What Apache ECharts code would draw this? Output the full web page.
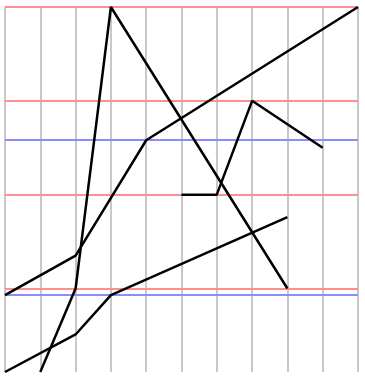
<!DOCTYPE html>
<html><head><meta charset="utf-8">
<script src="https://cdn.jsdelivr.net/npm/echarts@6/dist/echarts.min.js"></script>
<style>html,body{margin:0;padding:0;background:#fff}#c{width:365px;height:379px}</style>
</head><body><div id="c"></div>
<script>
// x positions (value axis 0..10) and y values per line
const line1X = [1, 2, 3, 8];
const line1Y = [-8.9, 0, 30, 0];
const line2X = [0, 2, 4, 10];
const line2Y = [-0.7, 3.5, 15.8, 30];
const line3X = [0, 2, 3, 8];
const line3Y = [-8.9, -4.9, -0.7, 7.6];
const line4X = [5, 6, 7, 9];
const line4Y = [10, 10, 20, 15];
const redLevels = [0, 10, 20, 30];
const blueLevels = [15.8, -0.7];
const xMin = 0, xMax = 10, xStep = 1;
const yMin = -8.9, yMax = 30;

const zip = (xs, ys) => xs.map((x, i) => [x, ys[i]]);
const lineStyle = { color: '#000', width: 2.5 };
function mk(xs, ys, extra) {
  return Object.assign({
    type: 'line', data: zip(xs, ys), symbol: 'none', silent: true,
    lineStyle: lineStyle, z: 5, animation: false
  }, extra || {});
}
const chart = echarts.init(document.getElementById('c'), null, { renderer: 'canvas' });
chart.setOption({
  animation: false,
  grid: { left: 5, right: 7, top: 7, bottom: 7, containLabel: false },
  xAxis: {
    type: 'value', min: xMin, max: xMax, interval: xStep,
    axisLine: { show: false }, axisTick: { show: false }, axisLabel: { show: false },
    splitLine: { show: true, lineStyle: { color: '#c8c8c8', width: 2 } }
  },
  yAxis: {
    type: 'value', min: yMin, max: yMax,
    axisLine: { show: false }, axisTick: { show: false }, axisLabel: { show: false },
    splitLine: { show: false }
  },
  series: [
    mk(line1X, line1Y, {
      markLine: {
        silent: true, symbol: 'none', label: { show: false }, animation: false,
        data: redLevels.map(v => ({ yAxis: v, lineStyle: { color: '#ff8f8f', width: 2, type: 'solid' } }))
          .concat(blueLevels.map(v => ({ yAxis: v, lineStyle: { color: '#8c8cff', width: 2, type: 'solid' } }))),
        z: 2
      }
    }),
    mk(line2X, line2Y),
    mk(line3X, line3Y),
    mk(line4X, line4Y)
  ]
});
</script></body></html>
